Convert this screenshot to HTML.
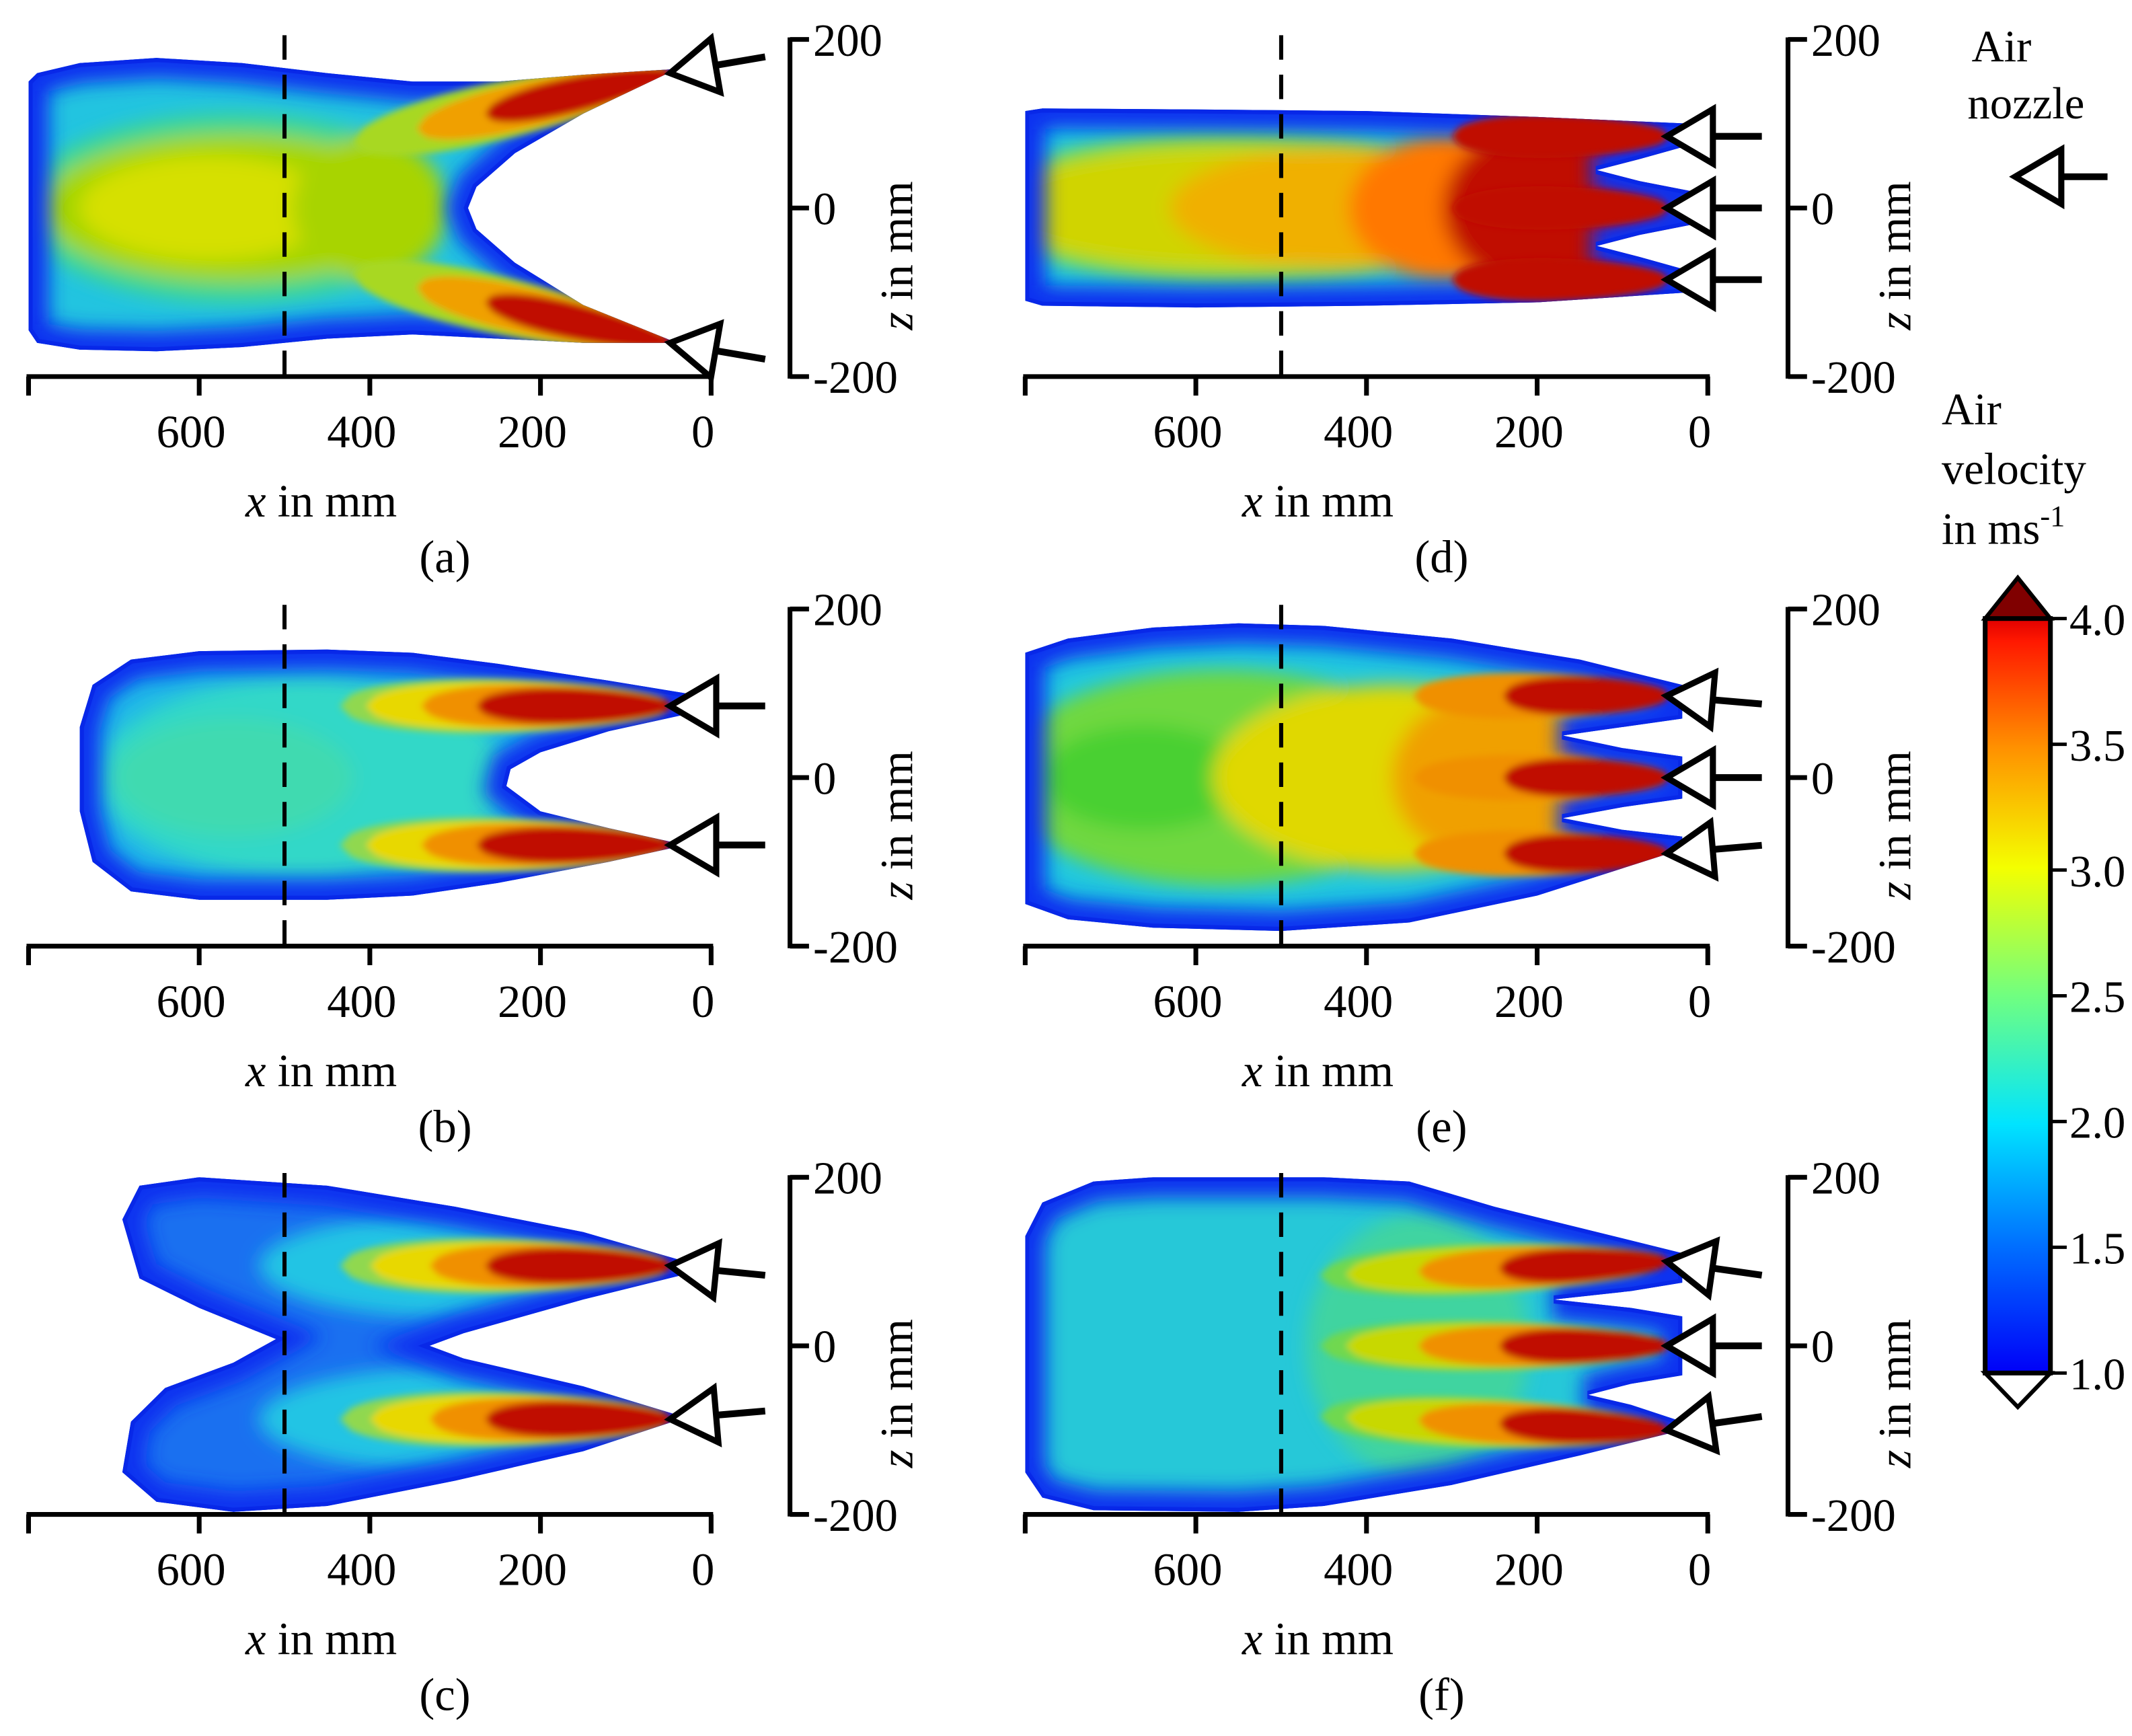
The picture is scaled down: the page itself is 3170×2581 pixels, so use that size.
<!DOCTYPE html>
<html><head><meta charset="utf-8"><style>
html,body{margin:0;padding:0;background:#fff;}
svg{display:block;}
text{font-family:"Liberation Serif",serif;fill:#000;}
</style></head><body>
<svg id="fig" width="3170" height="2581" viewBox="0 0 1568 1277" preserveAspectRatio="none" xmlns="http://www.w3.org/2000/svg">
<defs>
<filter id="blur" x="-20%" y="-20%" width="140%" height="140%"><feGaussianBlur stdDeviation="7"/></filter>
<filter id="blur2" x="-20%" y="-20%" width="140%" height="140%"><feGaussianBlur stdDeviation="2.5"/></filter>
<linearGradient id="cbar" x1="0" y1="1" x2="0" y2="0">
<stop offset="0" stop-color="#0000f8"/><stop offset="0.17" stop-color="#0070ff"/>
<stop offset="0.33" stop-color="#00e4ff"/><stop offset="0.5" stop-color="#70ff80"/>
<stop offset="0.67" stop-color="#f4ff00"/><stop offset="0.83" stop-color="#ff9000"/>
<stop offset="0.97" stop-color="#ff1800"/><stop offset="1" stop-color="#e00000"/>
</linearGradient>
</defs>
</svg>
<script>
// ---- data ----
const xTicks = [800, 600, 400, 200, 0];
const xTickLabels = ['', '600', '400', '200', '0'];
const zTicks = [200, 0, -200];
const zTickLabels = ['200', '0', '-200'];
const panelLetters = ['a', 'b', 'c', 'd', 'e', 'f'];
const cbTicks = [4.0, 3.5, 3.0, 2.5, 2.0, 1.5, 1.0];
const cbTickLabels = ['4.0', '3.5', '3.0', '2.5', '2.0', '1.5', '1.0'];
const dashedX = 500;

const envA = [[40,165],[150,158],[250,150],[350,150],[450,160],[550,172],[650,178],[740,172],[790,160],[800,150],[800,-145],[790,-160],[740,-168],[650,-170],[550,-165],[450,-155],[350,-150],[250,-155],[150,-160],[40,-160],[150,-115],[230,-65],[275,-25],[285,0],[275,25],[230,65],[150,112]];
const envB = [[30,100],[120,115],[250,135],[350,148],[450,152],[600,150],[680,140],[725,110],[740,60],[740,-40],[725,-100],[680,-135],[600,-145],[450,-145],[350,-140],[250,-125],[120,-100],[30,-80],[120,-60],[200,-40],[240,-10],[235,10],[200,30],[120,55],[30,75]];
const envC = [[30,100],[150,135],[300,165],[450,190],[600,200],[670,190],[690,150],[670,80],[600,45],[510,8],[560,-20],[640,-50],[680,-90],[690,-150],[650,-185],[560,-197],[450,-190],[300,-160],[150,-125],[30,-85],[150,-48],[290,-15],[330,0],[290,15],[150,55],[30,85]];
const envD = [[20,100],[200,108],[400,115],[600,117],[780,118],[800,115],[800,-110],[780,-116],[600,-118],[400,-116],[200,-112],[20,-100],[20,-75],[80,-58],[130,-45],[80,-32],[20,-20],[20,20],[80,32],[130,45],[80,58],[20,75]];
const envE = [[30,110],[150,140],[300,165],[450,180],[550,183],[650,178],[750,165],[800,148],[800,-150],[750,-168],[650,-178],[500,-182],[350,-172],[200,-140],[30,-85],[30,-70],[100,-62],[170,-48],[100,-35],[30,-25],[30,25],[100,35],[170,50],[100,60],[30,70]];
const envF = [[30,110],[150,140],[250,165],[350,195],[450,200],[650,200],[720,195],[780,170],[800,130],[800,-150],[780,-180],[720,-195],[550,-197],[450,-190],[300,-165],[150,-130],[30,-100],[30,-90],[90,-70],[140,-58],[90,-45],[30,-35],[30,35],[90,45],[180,55],[90,65],[30,75]];

const nozzleZA = [160, -160]; const nozzleZB = [85, -80]; const nozzleZC = [95, -87];
const nozzleZD = [85, 0, -85]; const nozzleZE = [97, 0, -90]; const nozzleZF = [100, 0, -100];
const nozzleX = 45;

const panels = [
 {env:envA, fill:'#22c4e0', col:0,row:0, nz:nozzleZA, slope:[-0.22,0.22], arrowTail:[[0,-12],[0,12]],
  blobs:[[560,0,250,112,'#40d890'],[560,0,225,88,'#a4d600'],[590,0,150,62,'#d6e000'],[400,0,90,85,'#a8d400']],
  jets:[[420,52,'#a8d820'],[345,42,'#f0a000'],[265,32,'#c01000']]},
 {env:envB, fill:'#20b8e8', col:0,row:1, nz:nozzleZB, slope:[0,0], arrowTail:[[0,0],[0,0]],
  blobs:[[480,0,240,118,'#30d8c8'],[560,0,140,70,'#40dab0']],
  jets:[[435,48,'#90d850'],[405,42,'#e8d800'],[340,38,'#f09000'],[275,32,'#c01000']]},
 {env:envC, fill:'#1a70f0', col:0,row:2, nz:nozzleZC, slope:[0,0], arrowTail:[[0,7],[0,-6]],
  blobs:[[300,95,230,62,'#20c4e4'],[300,-87,230,62,'#20c4e4']],
  jets:[[435,48,'#90d850'],[400,42,'#e8d800'],[330,38,'#f09000'],[265,32,'#c01000']]},
 {env:envD, fill:'#20c8e0', col:1,row:0, nz:nozzleZD, slope:[0,0,0], arrowTail:[[0,0],[0,0],[0,0]],
  blobs:[[550,0,300,90,'#80e040'],[560,0,285,74,'#d0d400'],[430,0,200,72,'#f0b000'],[300,0,120,88,'#ff7800'],[160,0,150,110,'#c01000']],
  jets:[[300,38,'#c01000']]},
 {env:envE, fill:'#20c8e0', col:1,row:1, nz:nozzleZE, slope:[0,0,0], arrowTail:[[0,6],[0,0],[0,-6]],
  blobs:[[570,0,260,128,'#70d840'],[660,0,120,62,'#48d030'],[370,0,210,110,'#e0d800'],[250,0,120,104,'#f0a000']],
  jets:[[345,40,'#f09000'],[240,34,'#c01000']]},
 {env:envF, fill:'#26c8d8', col:1,row:2, nz:nozzleZF, slope:[-0.04,0,0.04], arrowTail:[[0,10],[0,0],[0,-10]],
  blobs:[[340,0,130,155,'#40d4a0']],
  jets:[[455,44,'#70d850'],[425,40,'#c8d800'],[340,36,'#f09000'],[245,31,'#c01000']]}
];

// ---- layout ----
const NS = 'http://www.w3.org/2000/svg';
const svg = document.getElementById('fig');
const colX0 = [523, 1256], colZAxis = [581, 1315], rowZc = [153, 572, 990];
const K = 0.6275, KZ = 0.62;
function mk(tag, attrs, parent) { const e = document.createElementNS(NS, tag); for (const k in attrs) e.setAttribute(k, attrs[k]); (parent || svg).appendChild(e); return e; }

panels.forEach((p, i) => {
  const x0 = colX0[p.col], zc = rowZc[p.row], zax = colZAxis[p.col];
  const X = v => x0 - v * K, Z = v => zc - v * KZ;
  const g = mk('g', {});
  
  
  const d = 'M' + p.env.map(q => X(q[0]).toFixed(1) + ',' + Z(q[1]).toFixed(1)).join('L') + 'Z';
  const cp = mk('clipPath', {id: 'clip' + i}, g);
  mk('path', {d: d}, cp);
  const field = mk('g', {'clip-path': 'url(#clip' + i + ')'}, g);
  
  
  mk('path', {d: d, fill: p.fill}, field);
  const inner = mk('g', {filter: 'url(#blur)'}, field);
  p.blobs.forEach(b => {
    const el = mk('ellipse', {cx: X(b[0]), cy: Z(b[1]), rx: b[2] * K, ry: b[3] * KZ, fill: b[4]}, inner);
    
    
  });
  mk('path', {d: d, fill: 'none', stroke: '#0a30f0', 'stroke-width': 30, filter: 'url(#blur)'}, field);
  mk('path', {d: d, fill: 'none', stroke: '#0828e8', 'stroke-width': 6}, field);
  const jg = mk('g', {filter: 'url(#blur2)'}, field);
  p.jets.forEach(j => {
    p.nz.forEach((zn, k) => {
      const L = j[0], W = j[1], s = p.slope[k];
      const top = [], bot = [];
      for (let n = 0; n <= 30; n++) {
        const t = n / 30, x = nozzleX + t * (L - nozzleX), zc2 = zn + s * (x - nozzleX);
        const w = W * Math.pow(t, 0.45) * Math.sqrt(Math.max(0, 1 - Math.pow(t, 2.5)));
        top.push([X(x), Z(zc2 + w)]); bot.unshift([X(x), Z(zc2 - w)]);
      }
      const pts = top.concat(bot).map(q => q[0].toFixed(1) + ',' + q[1].toFixed(1)).join(' ');
      const el = mk('polygon', {points: pts, fill: j[2]}, jg);
      
      
    });
  });

  const dl = mk('line', {x1: X(dashedX), x2: X(dashedX), y1: Z(205), y2: Z(-200), stroke: '#000', 'stroke-width': 3, 'stroke-dasharray': '18,11'}, g);
  
  

  const ay = Z(-200);
  const xa = mk('line', {x1: X(800) - 1.5, x2: X(0) + 1.5, y1: ay, y2: ay, stroke: '#000', 'stroke-width': 3.5}, g);
  
  
  xTicks.forEach((v, k) => {
    mk('line', {x1: X(v), x2: X(v), y1: ay, y2: ay + 14, stroke: '#000', 'stroke-width': 3.5}, g);
    if (xTickLabels[k]) {
      const t = mk('text', {x: X(v) - 6, y: ay + 52, 'font-size': 34, 'text-anchor': 'middle'}, g);
      t.textContent = xTickLabels[k];
      
      
    }
  });
  const xt = mk('text', {x: X(457), y: ay + 103, 'font-size': 34, 'text-anchor': 'middle'}, g);
  xt.innerHTML = '<tspan font-style="italic">x</tspan> in mm';
  
  
  const pl = mk('text', {x: X(312), y: ay + 144, 'font-size': 34, 'text-anchor': 'middle'}, g);
  pl.textContent = '(' + panelLetters[i] + ')';
  
  

  const za = mk('line', {x1: zax, x2: zax, y1: Z(200) - 1.5, y2: Z(-200) + 1.5, stroke: '#000', 'stroke-width': 3.5}, g);
  
  
  zTicks.forEach((v, k) => {
    mk('line', {x1: zax, x2: zax + 14, y1: Z(v), y2: Z(v), stroke: '#000', 'stroke-width': 3.5}, g);
    const t = mk('text', {x: zax + 17, y: Z(v) + 12, 'font-size': 34}, g);
    t.textContent = zTickLabels[k];
    
    
  });
  const zt = mk('text', {x: 0, y: 0, 'font-size': 34, 'text-anchor': 'middle', transform: 'translate(' + (zax + 90) + ',' + (zc + 35) + ') rotate(-90)'}, g);
  zt.innerHTML = '<tspan font-style="italic">z</tspan> in mm';
  
  

  p.nz.forEach((zn, k) => {
    const tx = X(nozzleX) - 2, ty = Z(zn);
    drawArrow(tx, ty, tx + 70, ty + p.arrowTail[k][1], g);
  });
});

function drawArrow(tx, ty, ex, ey, parent) {
  const dx = ex - tx, dy = ey - ty, L = Math.hypot(dx, dy), ux = dx / L, uy = dy / L;
  const bx = tx + ux * 34, by = ty + uy * 34, px = -uy, py = ux;
  const a = mk('g', {}, parent);
  
  
  mk('line', {x1: bx, y1: by, x2: ex, y2: ey, stroke: '#000', 'stroke-width': 5}, a);
  mk('polygon', {points: [tx, ty, bx + px * 20, by + py * 20, bx - px * 20, by - py * 20].join(','), fill: '#fff', stroke: '#000', 'stroke-width': 4.5, 'stroke-linejoin': 'miter'}, a);
}

const lg = mk('g', {});


let t1 = mk('text', {x: 1450, y: 45, 'font-size': 33}, lg); t1.textContent = 'Air';
let t2 = mk('text', {x: 1447, y: 87, 'font-size': 33}, lg); t2.textContent = 'nozzle';
drawArrow(1482, 130, 1550, 130, lg);

const cb = mk('g', {});


const cbTop = 455, cbBot = 1010, cbL = 1460, cbR = 1508;
const V = v => cbBot - (v - 1.0) / 3.0 * (cbBot - cbTop);
['Air', 'velocity', 'in ms'].forEach((s, k) => {
  const t = mk('text', {x: 1428, y: 312 + k * 44, 'font-size': 33}, cb);
  t.textContent = s;
  if (k === 2) { const sp = mk('tspan', {dy: -13, 'font-size': 22}, t); sp.textContent = '-1'; }
  
  
});
mk('polygon', {points: [cbL, cbTop, (cbL + cbR) / 2, cbTop - 30, cbR, cbTop].join(','), fill: '#800000', stroke: '#000', 'stroke-width': 3}, cb);
mk('polygon', {points: [cbL, cbBot, (cbL + cbR) / 2, cbBot + 25, cbR, cbBot].join(','), fill: '#fff', stroke: '#000', 'stroke-width': 3}, cb);
mk('rect', {x: cbL, y: cbTop, width: cbR - cbL, height: cbBot - cbTop, fill: 'url(#cbar)', stroke: '#000', 'stroke-width': 3.5}, cb);
cbTicks.forEach((v, k) => {
  mk('line', {x1: cbR, x2: cbR + 12, y1: V(v), y2: V(v), stroke: '#000', 'stroke-width': 2.5}, cb);
  const t = mk('text', {x: cbR + 14, y: V(v) + 12, 'font-size': 33}, cb);
  t.textContent = cbTickLabels[k];
  
  
});
</script>
</body></html>
